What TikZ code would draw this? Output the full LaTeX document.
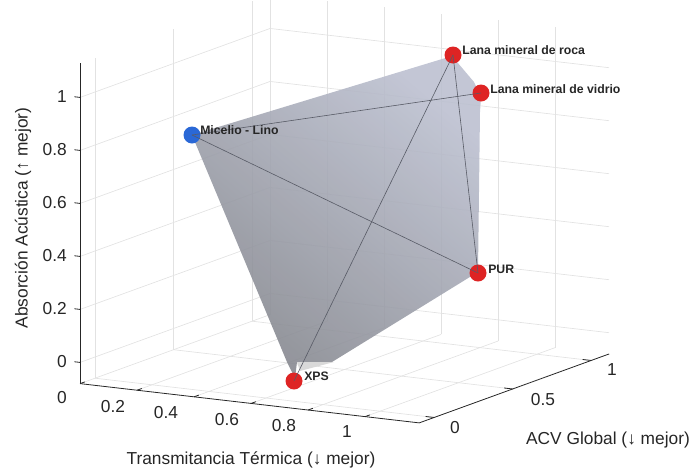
\documentclass[tikz,border=0pt]{standalone}
\usepackage{fontspec}
\setmainfont{Liberation Sans}
\usetikzlibrary{backgrounds}
\definecolor{gridgray}{RGB}{226,226,226}
\definecolor{axisgray}{RGB}{38,38,38}
\definecolor{hulldark}{RGB}{134,136,143}
\definecolor{hulllight}{RGB}{188,192,208}
\definecolor{hulledge}{RGB}{88,91,102}
\definecolor{ptred}{RGB}{222,36,36}
\definecolor{ptblue}{RGB}{42,104,214}

\begin{document}
\begin{tikzpicture}[x=0.75pt,y=-0.75pt,
  gridline/.style={gridgray,line width=0.5pt},
  axisline/.style={axisgray,line width=0.6pt},
  ticklab/.style={text=axisgray,font=\fontsize{13}{15}\selectfont,inner sep=0pt},
  matlabel/.style={font=\bfseries\fontsize{9.2}{11}\selectfont,text=black!85,inner sep=0pt,anchor=west},
  material/.style={circle,minimum size=12.75pt,inner sep=0pt},
  hulledges/.style={hulledge,line width=0.45pt}]
  \useasboundingbox (0,0) rectangle (694,472);

  % box walls, floor and axes
  \begin{scope}[shift={(95,357)},x={(213.75pt,-24.75pt)},y={(117.75pt,42.75pt)},z={(0pt,198.75pt)}]
    \foreach \v in {0,0.5,1} \draw[gridline] (0,\v,-0.08) -- (0,\v,1.13);
    \foreach \h in {0,0.2,0.4,0.6,0.8,1} \draw[gridline] (0,-0.095,\h) -- (0,1.115,\h);
    \foreach \v in {0,0.2,0.4,0.6,0.8,1} \draw[gridline] (\v,1.115,-0.08) -- (\v,1.115,1.13);
    \foreach \h in {0,0.2,0.4,0.6,0.8,1} \draw[gridline] (0,1.115,\h) -- (1.19,1.115,\h);
    \foreach \v in {0,0.2,0.4,0.6,0.8,1} \draw[gridline] (\v,-0.095,-0.08) -- (\v,1.115,-0.08);
    \foreach \v in {0,0.5,1} \draw[gridline] (0,\v,-0.08) -- (1.19,\v,-0.08);

    \draw[axisline] (0,-0.095,-0.08) -- (0,-0.095,1.13);
    \draw[axisline] (0,-0.095,-0.08) -- (1.19,-0.095,-0.08) -- (1.19,1.115,-0.08);
    \foreach \t in {0,0.2,0.4,0.6,0.8,1} \draw[axisline] (\t,-0.095,-0.08) -- ++(0,0.03,0);
    \foreach \t in {0,0.5,1} \draw[axisline] (1.19,\t,-0.08) -- ++(-0.03,0,0);
    \foreach \t in {0,0.2,0.4,0.6,0.8,1} \draw[axisline] (0,-0.095,\t) -- ++(-0.02,0,0);
  \end{scope}

  % hull
  \shade[top color=hulllight,bottom color=hulldark,shading angle=-40,fill opacity=0.9]
    (192,135) -- (452,56) -- (474,82) -- (481,97) -- (480,112) -- (478,272)
    -- (332,362) -- (297,362) -- (295,378) -- (287,362) -- cycle;
  \fill[gray!30] (297,362) -- (334,362) -- (300,371) -- cycle;

  \draw (192,135) node[material,fill=ptblue] (mic) {};
  \draw (453,55) node[material,fill=ptred] (roca) {};
  \draw (481,93) node[material,fill=ptred] (vidrio) {};
  \draw (478,273) node[material,fill=ptred] (pur) {};
  \draw (294,381) node[material,fill=ptred] (xps) {};

  \path[hulledges] (mic.center) edge (vidrio.center);
  \path[hulledges] (mic.center) edge (pur.center);
  \path[hulledges] (roca.center) edge (xps.center);
  \path[hulledges] (roca.center) edge (pur.center);

  \draw (200,130) node[matlabel] (miclab) {Micelio - Lino};
  \draw (462,50) node[matlabel] (rocalab) {Lana mineral de roca};
  \draw (490,89) node[matlabel] (vidriolab) {Lana mineral de vidrio};
  \draw (488,269) node[matlabel] (purlab) {PUR};
  \draw (304,376) node[matlabel] (xpslab) {XPS};

  % tick labels
  \foreach \v/\p in {0/362,0.2/309,0.4/256,0.6/203,0.8/150,1/97}
    \draw (67,\p) node[ticklab,anchor=east] {\v};
  \foreach \v/\p/\q in {0/62/398,0.2/113/407,0.4/166/413,0.6/227/420,0.8/284/426,1/347/432}
    \draw (\p,\q) node[ticklab] {\v};
  \foreach \v/\p/\q in {0/455/428,0.5/543/400,1/612/370}
    \draw (\p,\q) node[ticklab] {\v};

  \draw (251,460) node[ticklab] (xlab) {Transmitancia Térmica (↓ mejor)};
  \draw (608,440) node[ticklab] (ylab) {ACV Global (↓ mejor)};
  \draw (23,218) node[ticklab,rotate=90] (zlab) {Absorción Acústica (↑ mejor)};
\end{tikzpicture}
\end{document}
